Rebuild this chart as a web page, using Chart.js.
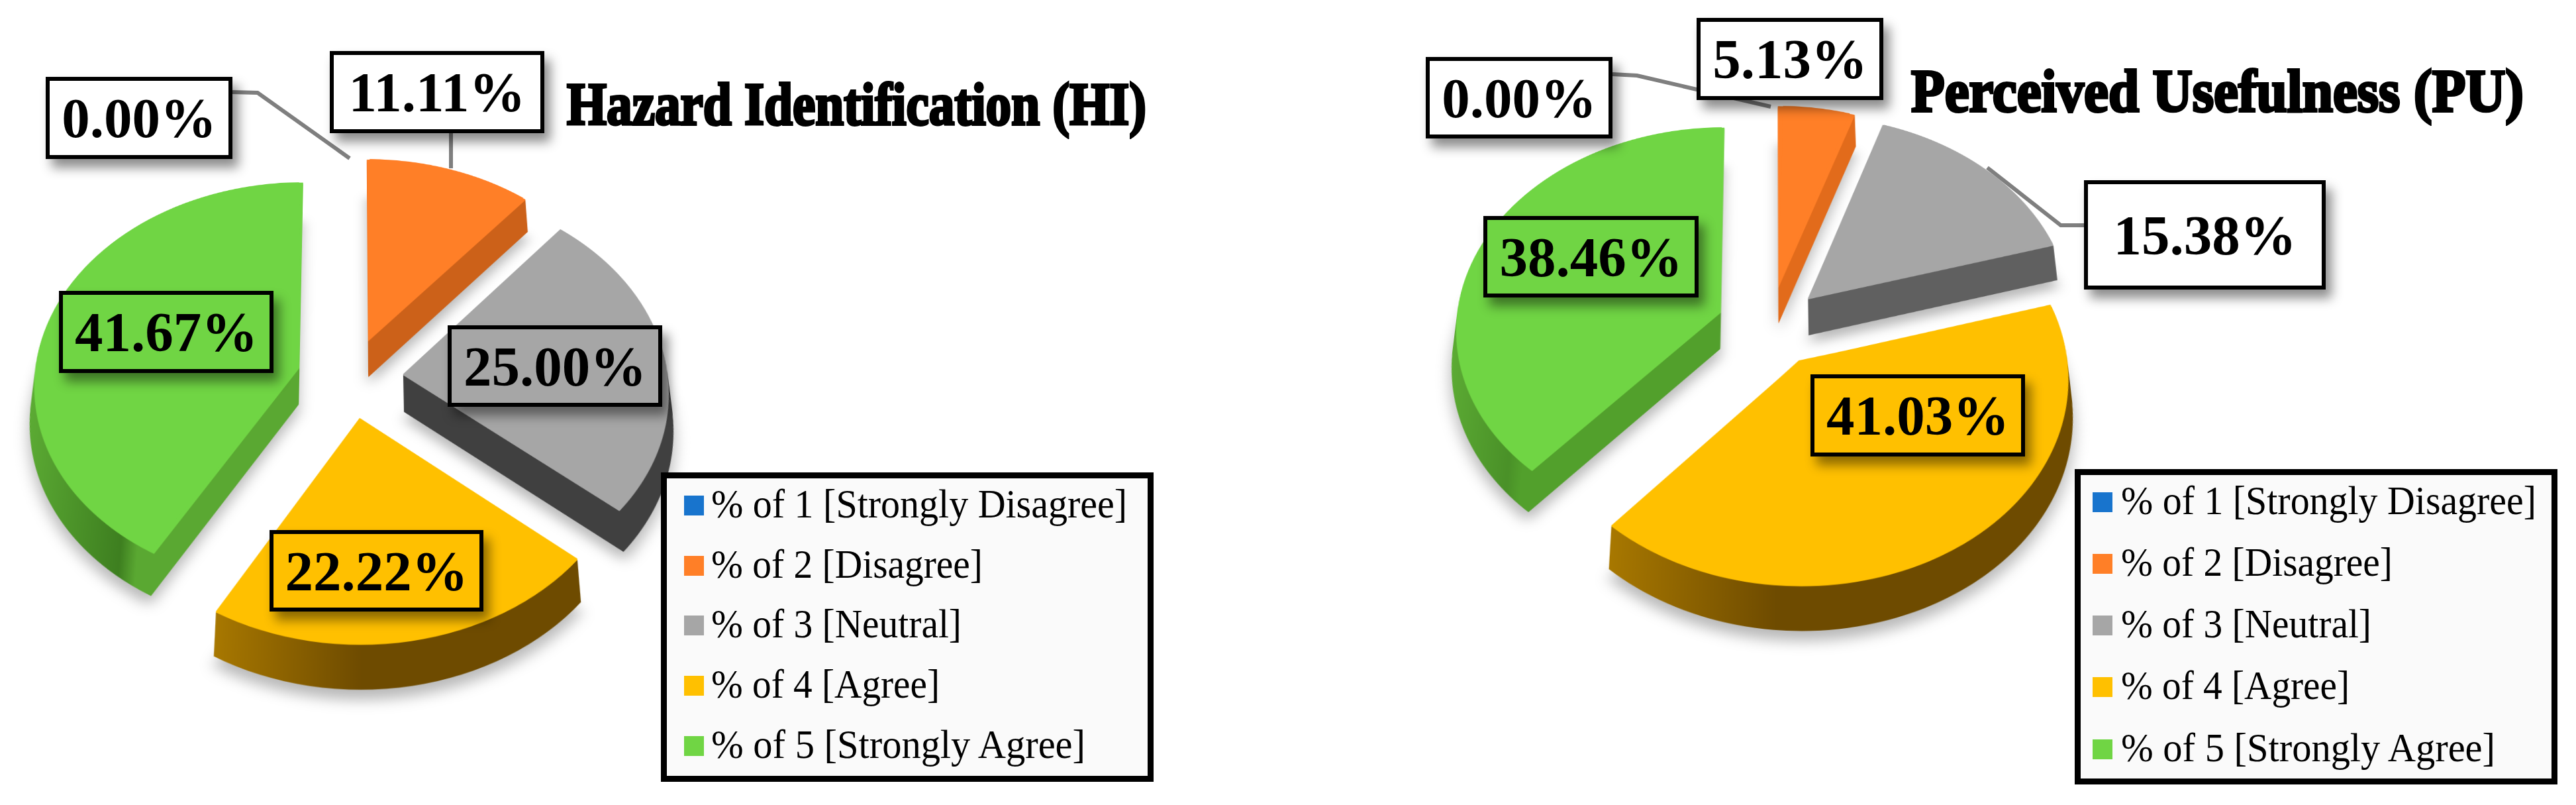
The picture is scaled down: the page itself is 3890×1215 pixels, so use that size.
<!DOCTYPE html>
<html>
<head>
<meta charset="utf-8">
<script src="https://cdn.jsdelivr.net/npm/chart.js@4"></script>
<style>
html,body{margin:0;padding:0;background:#fff;}
#page{position:relative;width:3890px;height:1215px;overflow:hidden;font-family:"Liberation Serif",serif;color:#000;}
.pie{position:absolute;width:1300px;height:1300px;}
.pie canvas{transform:perspective(3300px) rotateX(40.6deg);}
svg{position:absolute;left:0;top:0;}
.box{position:absolute;box-sizing:border-box;border:6px solid #000;display:flex;align-items:center;justify-content:center;font-weight:bold;box-shadow:9px 13px 16px rgba(0,0,0,.45);}
.title{position:absolute;font-weight:bold;white-space:nowrap;transform-origin:0 0;-webkit-text-stroke:4px #000;}
.legend{position:absolute;box-sizing:border-box;border:9px solid #000;background:#fafafa;}
.swatch{position:absolute;width:30px;height:30px;}
.entry{position:absolute;white-space:nowrap;transform-origin:0 0;}
</style>
</head>
<body>
<div id="page">
<svg id="leaders" width="3890" height="1215"></svg>
</div>
<script>
var categories=['% of 1 [Strongly Disagree]','% of 2 [Disagree]','% of 3 [Neutral]','% of 4 [Agree]','% of 5 [Strongly Agree]'];
var hiValues=[0.00,11.11,25.00,22.22,41.67];
var puValues=[0.00,5.13,15.38,41.03,38.46];
var hiTitle='Hazard Identification (HI)';
var puTitle='Perceived Usefulness (PU)';
var sliceColors=['#1874cd','#ff7f27','#a6a6a6','#ffc000','#70d544'];

// side walls, [stop, colour] left to right across the slice
var hiSides=[
  [[0,'#1874cd'],[1,'#1874cd']],
  [[0,'#cc6119'],[1,'#cc6119']],
  [[0,'#404040'],[1,'#404040']],
  [[0,'#a87800'],[0.4,'#6e4b00'],[1,'#6e4b00']],
  [[0,'#5cab34'],[0.38,'#3e7f20'],[0.44,'#5aa832'],[1,'#5aa832']]
];
var puSides=[
  [[0,'#1874cd'],[1,'#1874cd']],
  [[0,'#e26b1b'],[1,'#e26b1b']],
  [[0,'#606060'],[1,'#606060']],
  [[0,'#a87800'],[0.35,'#6e4b00'],[1,'#6e4b00']],
  [[0,'#5cab34'],[0.25,'#4a9128'],[0.3,'#52a02c'],[1,'#52a02c']]
];

// chart.js moves a slice by offset/4, so ask for 4x
var RADIUS=400, OFFSET=320, DEPTH=74;

function slicePath(ctx,arc)
{
    var p=arc.getProps(['x','y','startAngle','endAngle']);
    var mid=(p.startAngle+p.endAngle)/2;
    var ox=p.x+Math.cos(mid)*OFFSET/4;
    var oy=p.y+Math.sin(mid)*OFFSET/4;
    ctx.beginPath();
    ctx.moveTo(ox,oy);
    ctx.arc(ox,oy,RADIUS,p.startAngle,p.endAngle);
    ctx.closePath();
}

// pulls the slices down into thick wedges, with a soft shadow under them
var depthPlugin={
    id:'depth',
    beforeDatasetsDraw:function(chart,args,opts){
        var ctx=chart.ctx;
        var arcs=chart.getDatasetMeta(0).data;
        // the arc grows with its offset depending on its angle, take that back out
        arcs.forEach(function(arc){
            var fix=1-Math.sin(Math.min(Math.PI,arc.circumference));
            arc.outerRadius=RADIUS-OFFSET/4*fix;
        });
        ctx.save();
        ctx.filter='blur(22px)';
        ctx.fillStyle='rgba(0,0,0,0.28)';
        arcs.forEach(function(arc){
            if(arc.circumference==0)return;
            ctx.save();
            ctx.translate(0,DEPTH+16);
            slicePath(ctx,arc);
            ctx.fill();
            ctx.restore();
        });
        ctx.restore();
        arcs.forEach(function(arc,i){
            if(arc.circumference==0)return;
            var p=arc.getProps(['x','startAngle','endAngle']);
            var mid=(p.startAngle+p.endAngle)/2;
            var ox=p.x+Math.cos(mid)*OFFSET/4;
            var xs=[0];
            for(var a=p.startAngle;a<p.endAngle;a+=0.05)xs.push(Math.cos(a)*RADIUS);
            xs.push(Math.cos(p.endAngle)*RADIUS);
            var g=ctx.createLinearGradient(ox+Math.min.apply(null,xs),0,ox+Math.max.apply(null,xs),0);
            opts.sides[i].forEach(function(s){g.addColorStop(s[0],s[1]);});
            for(var d=DEPTH;d>0;d--)
            {
                ctx.save();
                // last layers in the top colour so no dark fringe shows round the top face
                ctx.fillStyle=d>2?g:sliceColors[i];
                ctx.translate(0,d);
                slicePath(ctx,arc);
                ctx.fill();
                ctx.restore();
            }
        });
    }
};

function addPie(cx,cy,values,sides)
{
    var holder=document.createElement('div');
    holder.className='pie';
    holder.style.left=(cx-650)+'px';
    holder.style.top=(cy-650)+'px';
    var canvas=document.createElement('canvas');
    holder.appendChild(canvas);
    document.getElementById('page').appendChild(holder);
    new Chart(canvas,{
        type:'pie',
        data:{
            labels:categories,
            datasets:[{
                data:values,
                backgroundColor:sliceColors,
                borderWidth:0,
                offset:OFFSET
            }]
        },
        options:{
            responsive:true,
            maintainAspectRatio:false,
            animation:false,
            radius:RADIUS,
            events:[],
            devicePixelRatio:2,
            plugins:{legend:{display:false},tooltip:{enabled:false},depth:{sides:sides}}
        },
        plugins:[depthPlugin]
    });
}

function addBox(x0,y0,x1,y1,value,bg,size)
{
    var b=document.createElement('div');
    b.className='box';
    b.style.cssText='left:'+x0+'px;top:'+y0+'px;width:'+(x1-x0)+'px;height:'+(y1-y0)+'px;background:'+bg+';font-size:'+size+'px;';
    b.textContent=value.toFixed(2)+'%';
    document.getElementById('page').appendChild(b);
}

// squeeze a nowrap element to the width it has in the picture
function fit(el,width)
{
    el.style.transform='scaleX('+(width/el.getBoundingClientRect().width)+')';
}

function addTitle(x,baseline,width,text)
{
    var t=document.createElement('div');
    t.className='title';
    t.textContent=text;
    t.style.cssText='left:'+x+'px;top:'+(baseline-80)+'px;font-size:90px;line-height:100px;';
    document.getElementById('page').appendChild(t);
    fit(t,width);
}

function addLegend(x0,y0,x1,y1,swatchX,textX,textWidths,baselines)
{
    var page=document.getElementById('page');
    var l=document.createElement('div');
    l.className='legend';
    l.style.cssText='left:'+x0+'px;top:'+y0+'px;width:'+(x1-x0)+'px;height:'+(y1-y0)+'px;';
    page.appendChild(l);
    categories.forEach(function(c,i){
        var s=document.createElement('div');
        s.className='swatch';
        s.style.cssText='left:'+swatchX+'px;top:'+(baselines[i]-33)+'px;background:'+sliceColors[i]+';';
        page.appendChild(s);
        var e=document.createElement('div');
        e.className='entry';
        e.textContent=c;
        e.style.cssText='left:'+textX+'px;top:'+(baselines[i]-54)+'px;font-size:62px;line-height:66px;';
        page.appendChild(e);
        fit(e,textWidths[i]);
    });
}

function leader(points)
{
    var pl=document.createElementNS('http://www.w3.org/2000/svg','polyline');
    pl.setAttribute('points',points.map(function(p){return p.join(',');}).join(' '));
    pl.setAttribute('fill','none');
    pl.setAttribute('stroke','#7f7f7f');
    pl.setAttribute('stroke-width','6');
    document.getElementById('leaders').appendChild(pl);
}

addPie(529,570,hiValues,hiSides);
addPie(2673,492,puValues,puSides);

var svg=document.getElementById('leaders');
svg.parentNode.appendChild(svg);
leader([[351,139],[389,140],[528,239]]);
leader([[681,201],[681,254]]);
leader([[2435,112],[2472,114],[2674,161]]);
leader([[3001,253],[3112,340],[3147,340]]);

addBox(69,116,351,240,hiValues[0],'#fff',85);
addBox(498,77,822,201,hiValues[1],'#fff',85);
addBox(676,491,1000,614,hiValues[2],sliceColors[2],85);
addBox(407,800,730,923,hiValues[3],sliceColors[3],85);
addBox(89,439,413,563,hiValues[4],sliceColors[4],85);

addBox(2153,86,2435,209,puValues[0],'#fff',85);
addBox(2562,27,2844,151,puValues[1],'#fff',85);
addBox(3147,272,3512,437,puValues[2],'#fff',85);
addBox(2734,565,3058,689,puValues[3],sliceColors[3],85);
addBox(2240,326,2565,449,puValues[4],sliceColors[4],85);

addTitle(856,188,875,hiTitle);
addTitle(2886,168,925,puTitle);

addLegend(998,713,1742,1180,1033,1074,[628,410,378,345,565],[781,872,962,1053,1144]);
addLegend(3133,708,3862,1184,3160,3203,[627,410,378,345,565],[776,869,962,1055,1149]);
</script>
</body>
</html>
